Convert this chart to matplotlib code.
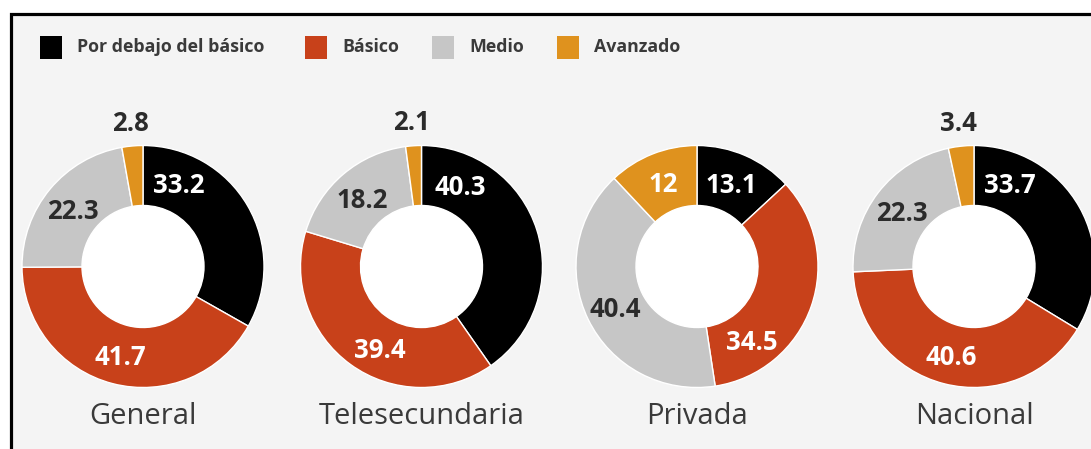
import numpy as np
import matplotlib.pyplot as plt
from matplotlib.patches import Rectangle, Circle

# levels of achievement, share of students (%)
categories = ["Por debajo del básico", "Básico", "Medio", "Avanzado"]
groups = ["General", "Telesecundaria", "Privada", "Nacional"]
por_debajo = [33.2, 40.3, 13.1, 33.7]
basico = [41.7, 39.4, 34.5, 40.6]
medio = [22.3, 18.2, 40.4, 22.3]
avanzado = [2.8, 2.1, 12, 3.4]

colors = ["#000000", "#c8411a", "#c6c6c6", "#df921e"]
text_colors = ["white", "white", "#2b2b2b", "white"]
bg = "#f4f4f4"
dark = "#3a3a3a"
font = "Open Sans"

# layout, in pixels (y measured from bottom)
W, H = 1091, 449
centers_x = [143, 421.5, 697, 974]
center_y = 182.5
R, ring = 121, 60
# hand placed label angles where the original moved them off the slice middle
angle_fix = {(0, 0): 67, (1, 0): 64.5, (2, 0): 68, (3, 0): 66.7,
             (1, 1): -117, (2, 1): -53}

fig = plt.figure(figsize=(W / 100, H / 100), dpi=100)
ax = fig.add_axes([0, 0, 1, 1])
ax.axis("off")

# framed light panel
ax.add_patch(Rectangle((10.5, -20), W + 20, 435.5 + 20, facecolor=bg,
                       edgecolor="black", linewidth=2.3, zorder=0))

# legend
leg_x = [40, 305, 432, 557]
for i, cat in enumerate(categories):
    ax.add_patch(Rectangle((leg_x[i], 390), 22, 23, facecolor=colors[i],
                           edgecolor="none", zorder=2))
    ax.text(leg_x[i] + 37, 401.5, cat, fontsize=12.8, fontweight="bold",
            family=font, color=dark, va="center", ha="left")

for g, name in enumerate(groups):
    vals = [por_debajo[g], basico[g], medio[g], avanzado[g]]
    cx = centers_x[g]
    wedges, _ = ax.pie(vals, colors=colors, startangle=90, counterclock=False,
                       center=(cx, center_y), radius=R,
                       wedgeprops=dict(width=ring, edgecolor="white", linewidth=1))
    ax.add_patch(Circle((cx, center_y), R - ring, facecolor="white",
                        edgecolor="none", zorder=3))
    for i, (w, v) in enumerate(zip(wedges, vals)):
        ang = angle_fix.get((g, i), (w.theta1 + w.theta2) / 2)
        if v < 5:
            r, col = 147, "#2b2b2b"
        else:
            r, col = 91, text_colors[i]
        x = cx + r * np.cos(np.radians(ang))
        y = center_y + r * np.sin(np.radians(ang))
        ax.text(x, y, f"{v:g}", fontsize=18.5, fontweight="bold", family=font,
                color=col, ha="center", va="center_baseline", zorder=4)
    ax.text(cx, 36.5, name, fontsize=21, family=font, color=dark,
            ha="center", va="center_baseline")

ax.set_xlim(0, W)
ax.set_ylim(0, H)
ax.set_aspect("equal")
fig.savefig("out.png", dpi=100, facecolor="white")
